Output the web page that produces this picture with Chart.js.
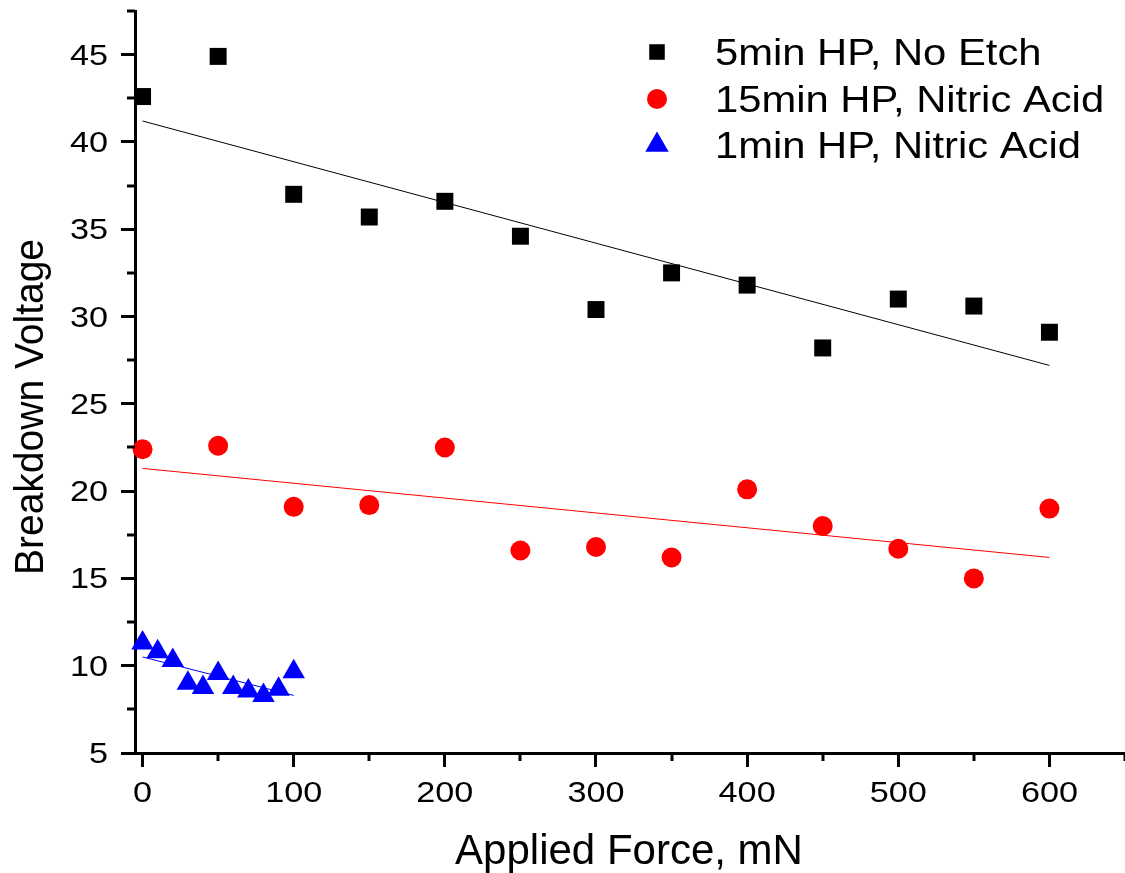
<!DOCTYPE html>
<html>
<head>
<meta charset="utf-8">
<script src="https://cdn.jsdelivr.net/npm/chart.js@4.4.1/dist/chart.umd.min.js"></script>
<style>
  html, body { margin: 0; padding: 0; background: #fff; }
</style>
</head>
<body>
<canvas id="chart" width="1125" height="873"></canvas>
<script>
// data
const seriesLabels = ['5min HP, No Etch', '15min HP, Nitric Acid', '1min HP, Nitric Acid'];

const forceA = [0, 50, 100, 150, 200, 250, 300, 350, 400, 450, 500, 550, 600];
const voltageNoEtch = [42.6, 44.9, 37.0, 35.7, 36.6, 34.6, 30.4, 32.5, 31.8, 28.2, 31.0, 30.6, 29.1];
const voltageNitric15 = [22.4, 22.6, 19.1, 19.2, 22.5, 16.6, 16.8, 16.2, 20.1, 18.0, 16.7, 15.0, 19.0];

const forceB = [0, 10, 20, 30, 40, 50, 60, 70, 80, 90, 100];
const voltageNitric1 = [11.3, 10.8, 10.3, 9.0, 8.75, 9.55, 8.75, 8.55, 8.3, 8.65, 9.65];

// linear fit end points
const fitNoEtchX = [0, 600];
const fitNoEtchY = [41.2, 27.2];
const fitNitric15X = [0, 600];
const fitNitric15Y = [21.3, 16.2];
const fitNitric1X = [0, 100];
const fitNitric1Y = [10.5, 8.3];

// axis ticks
const xMajorTicks = [0, 100, 200, 300, 400, 500, 600];
const xMinorTicks = [50, 150, 250, 350, 450, 550, 650];
const yMajorTicks = [5, 10, 15, 20, 25, 30, 35, 40, 45];
const yMinorTicks = [7.5, 12.5, 17.5, 22.5, 27.5, 32.5, 37.5, 42.5, 47.5];

const FONT = '"Liberation Sans", Arial, sans-serif';
const TICK_STRETCH = 1.18;
const seriesColors = ['#000000', '#ff0000', '#0000ff'];
const seriesStyles = ['rect', 'circle', 'triangle'];

function toPoints(xs, ys) {
  return xs.map((x, i) => ({ x: x, y: ys[i] }));
}

function drawText(ctx, text, x, y, size, align, sx) {
  ctx.save();
  ctx.font = size + 'px ' + FONT;
  ctx.fillStyle = '#000';
  ctx.textAlign = align;
  ctx.textBaseline = 'alphabetic';
  ctx.translate(x, y);
  ctx.scale(sx, 1);
  ctx.fillText(text, 0, 0);
  ctx.restore();
}

// tick labels, minor ticks, axis titles and legend drawn on top
const decorPlugin = {
  id: 'decor',
  afterDraw(chart) {
    const ctx = chart.ctx;
    const xs = chart.scales.x;
    const ys = chart.scales.y;
    const area = chart.chartArea;

    // minor ticks
    ctx.save();
    ctx.strokeStyle = '#000';
    ctx.lineWidth = 3;
    ctx.beginPath();
    xMinorTicks.forEach(v => {
      const px = Math.round(xs.getPixelForValue(v));
      ctx.moveTo(px, area.bottom);
      ctx.lineTo(px, area.bottom + 8);
    });
    yMinorTicks.forEach(v => {
      const py = Math.round(ys.getPixelForValue(v));
      ctx.moveTo(area.left, py);
      ctx.lineTo(area.left - 8, py);
    });
    ctx.stroke();
    ctx.restore();

    // tick labels
    xMajorTicks.forEach(v => {
      drawText(ctx, String(v), xs.getPixelForValue(v), area.bottom + 49, 29, 'center', TICK_STRETCH);
    });
    yMajorTicks.forEach(v => {
      drawText(ctx, String(v), area.left - 27, ys.getPixelForValue(v) + 10, 29, 'right', TICK_STRETCH);
    });

    // axis titles
    drawText(ctx, 'Applied Force, mN', (area.left + area.right) / 2 - 1, area.bottom + 111, 42, 'center', 1);
    ctx.save();
    ctx.font = '39px ' + FONT;
    ctx.fillStyle = '#000';
    ctx.textAlign = 'center';
    ctx.textBaseline = 'alphabetic';
    ctx.translate(43, (area.top + area.bottom) / 2 + 25);
    ctx.rotate(-Math.PI / 2);
    ctx.scale(1, 1.05);
    ctx.fillText('Breakdown Voltage', 0, 0);
    ctx.restore();

    // legend
    const markerR = [11, 10, 13.5];
    const baselines = [65, 112, 158];
    seriesLabels.forEach((label, i) => {
      ctx.save();
      ctx.fillStyle = seriesColors[i];
      ctx.strokeStyle = seriesColors[i];
      Chart.helpers.drawPoint(ctx, {
        pointStyle: seriesStyles[i],
        radius: markerR[i],
        borderWidth: 0
      }, 657, baselines[i] - 13);
      ctx.restore();
      drawText(ctx, label, 715, baselines[i], 36, 'left', 1.16);
    });
  }
};

function scatterSet(label, data, color, style, radius) {
  return {
    type: 'scatter',
    label: label,
    data: data,
    showLine: false,
    clip: false,
    pointStyle: style,
    pointRadius: radius,
    pointHoverRadius: radius,
    pointBackgroundColor: color,
    pointBorderColor: color,
    pointBorderWidth: 0
  };
}

function fitSet(data, color) {
  return {
    type: 'line',
    label: 'fit',
    data: data,
    borderColor: color,
    borderWidth: 1,
    pointRadius: 0,
    fill: false,
    tension: 0
  };
}

const ctx = document.getElementById('chart').getContext('2d');
const chart = new Chart(ctx, {
  type: 'scatter',
  data: {
    datasets: [
      fitSet(toPoints(fitNoEtchX, fitNoEtchY), seriesColors[0]),
      fitSet(toPoints(fitNitric15X, fitNitric15Y), seriesColors[1]),
      fitSet(toPoints(fitNitric1X, fitNitric1Y), seriesColors[2]),
      scatterSet(seriesLabels[0], toPoints(forceA, voltageNoEtch), seriesColors[0], seriesStyles[0], 12),
      scatterSet(seriesLabels[1], toPoints(forceA, voltageNitric15), seriesColors[1], seriesStyles[1], 10),
      scatterSet(seriesLabels[2], toPoints(forceB, voltageNitric1), seriesColors[2], seriesStyles[2], 13)
    ]
  },
  options: {
    responsive: false,
    animation: false,
    layout: { autoPadding: false, padding: { top: 11, right: 0, bottom: 0, left: 0 } },
    plugins: {
      legend: { display: false },
      tooltip: { enabled: false },
      title: { display: false }
    },
    scales: {
      x: {
        type: 'linear',
        min: -5,
        max: 650,
        afterBuildTicks: scale => { scale.ticks = xMajorTicks.map(v => ({ value: v })); },
        afterFit: scale => { scale.height = 120; },
        ticks: { display: false },
        grid: { drawOnChartArea: false, drawTicks: true, tickLength: 14, tickWidth: 3, tickColor: '#000' },
        border: { display: true, color: '#000', width: 3 }
      },
      y: {
        type: 'linear',
        min: 5,
        max: 47.5,
        afterBuildTicks: scale => { scale.ticks = yMajorTicks.map(v => ({ value: v })); },
        afterFit: scale => { scale.width = 135; },
        ticks: { display: false },
        grid: { drawOnChartArea: false, drawTicks: true, tickLength: 14, tickWidth: 3, tickColor: '#000' },
        border: { display: true, color: '#000', width: 3 }
      }
    }
  },
  plugins: [decorPlugin]
});
</script>
</body>
</html>
